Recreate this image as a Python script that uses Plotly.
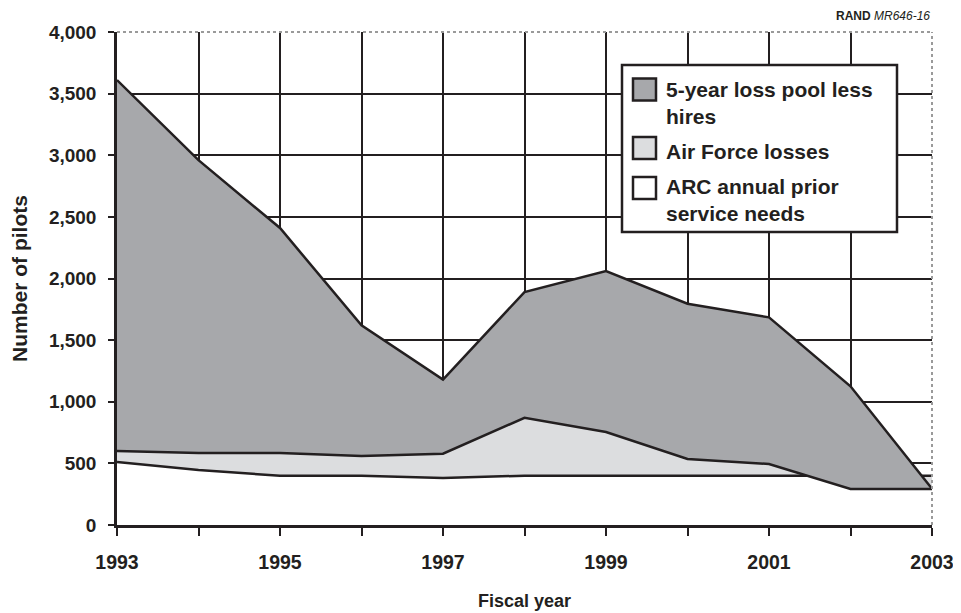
import plotly.graph_objects as go

# ---- data ----
years = [1993, 1994, 1995, 1996, 1997, 1998, 1999, 2000, 2001, 2002, 2003]
loss_pool_less_hires = [3610, 2960, 2410, 1620, 1180, 1890, 2060, 1795, 1685, 1125, 295]
air_force_losses = [600, 585, 585, 560, 578, 870, 755, 535, 495, 292, 292]
arc_prior_service_needs = [512, 446, 400, 400, 382, 400, 400, 400, 400, 400, 400]

series_names = ["5-year loss pool less<br>hires", "Air Force losses", "ARC annual prior<br>service needs"]
y_tickvals = [0, 500, 1000, 1500, 2000, 2500, 3000, 3500, 4000]
y_ticktext = ["0", "500", "1,000", "1,500", "2,000", "2,500", "3,000", "3,500", "4,000"]
x_ticktext = ["1993", "", "1995", "", "1997", "", "1999", "", "2001", "", "2003"]
x_title = "Fiscal year"
y_title = "Number of pilots"

INK = "#231f20"
DARK = "#a7a8ab"
LIGHT = "#dcdddf"
FONT = "Liberation Sans, Arial, sans-serif"

# page geometry (pixels); the page body has an 8px margin on top/left
W, H = 961, 613
OFF = 8
PL, PR, PT, PB = 117, 932, 32, 525
FW, FH = W - OFF, H - OFF


def px_x(p):
    return (p - PL) / (PR - PL)


def px_y(p):
    return (PB - p) / (PB - PT)


fig = go.Figure()
fig.add_trace(go.Scatter(x=years, y=arc_prior_service_needs, mode="lines", fill="tozeroy",
                         fillcolor="white", line=dict(color=INK, width=2.5),
                         name="ARC annual prior service needs", showlegend=False))
fig.add_trace(go.Scatter(x=years, y=air_force_losses, mode="lines", fill="tonexty",
                         fillcolor=LIGHT, line=dict(color=INK, width=2.5),
                         name="Air Force losses", showlegend=False))
fig.add_trace(go.Scatter(x=years, y=loss_pool_less_hires, mode="lines", fill="tonexty",
                         fillcolor=DARK, line=dict(color=INK, width=2.5),
                         name="5-year loss pool less hires", showlegend=False))

shapes = []
annotations = []

# plot-area border (dotted grey) on top and right
shapes.append(dict(type="line", xref="paper", yref="paper", x0=0, x1=1, y0=1, y1=1,
                   line=dict(color="#9a9a9a", width=2, dash="dot"), layer="above"))
shapes.append(dict(type="line", xref="paper", yref="paper", x0=1, x1=1, y0=0, y1=1,
                   line=dict(color="#9a9a9a", width=2, dash="dot"), layer="above"))

# legend box
shapes.append(dict(type="rect", xref="paper", yref="paper",
                   x0=px_x(622), x1=px_x(897), y0=px_y(232), y1=px_y(65),
                   fillcolor="white", line=dict(color=INK, width=2.5), layer="above"))
swatch_colors = [DARK, LIGHT, "white"]
swatch_centers = [89.5, 148, 188]
text_centers = [103, 151, 200]
for name, col, sc, tc in zip(series_names, swatch_colors, swatch_centers, text_centers):
    shapes.append(dict(type="rect", xref="paper", yref="paper",
                       x0=px_x(633), x1=px_x(656), y0=px_y(sc + 11), y1=px_y(sc - 11),
                       fillcolor=col, line=dict(color=INK, width=2.5), layer="above"))
    annotations.append(dict(xref="paper", yref="paper", x=px_x(664), y=px_y(tc),
                            xanchor="left", yanchor="middle", align="left", showarrow=False,
                            text="<b>" + name + "</b>",
                            font=dict(family=FONT, size=21, color=INK)))

annotations.append(dict(xref="paper", yref="paper", x=1.0, y=px_y(16), xanchor="right",
                        yanchor="middle", showarrow=False,
                        text="<b>RAND</b> <i>MR646-16</i>",
                        font=dict(family=FONT, size=12, color=INK)))

# x axis title
annotations.append(dict(xref="paper", yref="paper", x=0.5, y=px_y(601), xanchor="center",
                        yanchor="middle", showarrow=False, text="<b>" + x_title + "</b>",
                        font=dict(family=FONT, size=18, color=INK)))

fig.update_layout(
    width=FW, height=FH,
    margin=dict(l=PL - OFF, r=(OFF + FW) - PR, t=PT - OFF, b=(OFF + FH) - PB, autoexpand=False),
    paper_bgcolor="white", plot_bgcolor="white",
    font=dict(family=FONT, color=INK),
    shapes=shapes, annotations=annotations,
    showlegend=False,
)
fig.update_xaxes(
    range=[1993, 2003], tickvals=years, ticktext=x_ticktext,
    showgrid=True, gridcolor=INK, gridwidth=2,
    showline=True, linecolor=INK, linewidth=3,
    ticks="outside", ticklen=8, tickwidth=2, tickcolor=INK,
    tickfont=dict(family=FONT, size=19.5, color=INK, weight="bold"),
    ticklabelstandoff=10,
    zeroline=False, automargin=False,
)
fig.update_yaxes(
    range=[0, 4000], tickvals=y_tickvals, ticktext=y_ticktext,
    showgrid=True, gridcolor=INK, gridwidth=2,
    showline=True, linecolor=INK, linewidth=2.5,
    ticks="outside", ticklen=6, tickwidth=2, tickcolor=INK,
    tickfont=dict(family=FONT, size=19, color=INK, weight="bold"),
    ticklabelstandoff=8,
    title=dict(text="<b>" + y_title + "</b>", font=dict(family=FONT, size=21, color=INK), standoff=16),
    zeroline=False, automargin=False,
)

fig.write_html("out.html")
